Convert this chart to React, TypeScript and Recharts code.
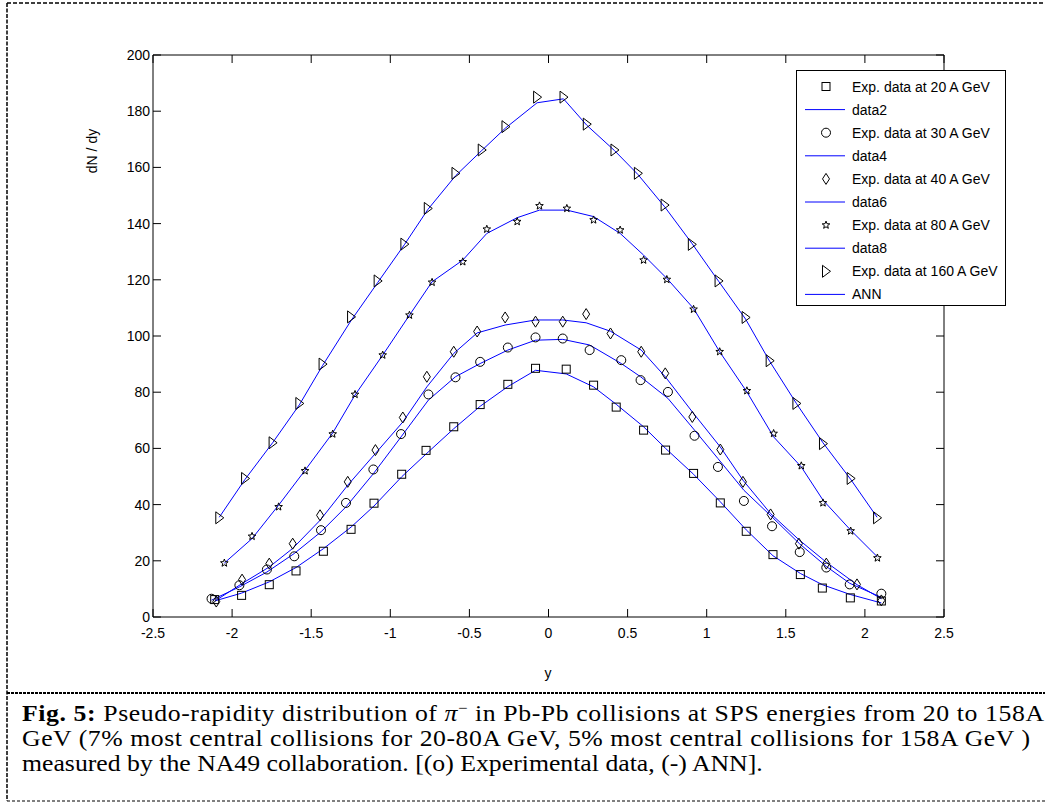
import React from "react";
import { ComposedChart, Line, Scatter, XAxis, YAxis } from "recharts";

const xTicks = [-2.5, -2, -1.5, -1, -0.5, 0, 0.5, 1, 1.5, 2, 2.5];
const yTicks = [0, 20, 40, 60, 80, 100, 120, 140, 160, 180, 200];

// 20 A GeV
const x20 = [-2.11, -1.94, -1.765, -1.596, -1.423, -1.248, -1.103, -0.928, -0.774, -0.599, -0.432, -0.257, -0.082, 0.112, 0.285, 0.428, 0.601, 0.74, 0.917, 1.086, 1.25, 1.419, 1.592, 1.731, 1.908, 2.104];
const exp20 = [6.2, 7.7, 11.5, 16.4, 23.4, 31.2, 40.5, 50.8, 59.3, 67.7, 75.6, 82.8, 88.5, 88.2, 82.5, 74.7, 66.5, 59.4, 51.1, 40.6, 30.5, 22.2, 15.1, 10.3, 6.8, 5.7];
const ann20 = [5.7, 8.5, 12.5, 17.6, 24.3, 32, 39.5, 49.9, 58, 67, 75, 82, 87.8, 86.5, 81.9, 75.7, 67.7, 60, 50.8, 41, 31, 21.8, 15.5, 11.5, 8, 5];

// 30 A GeV
const x30 = [-2.13, -1.954, -1.78, -1.607, -1.438, -1.28, -1.107, -0.932, -0.759, -0.588, -0.432, -0.257, -0.082, 0.09, 0.26, 0.46, 0.582, 0.755, 0.923, 1.071, 1.235, 1.413, 1.588, 1.756, 1.904, 2.104];
const exp30 = [6.5, 11.3, 16.9, 21.6, 30.9, 40.6, 52.5, 65.1, 79.2, 85.3, 90.8, 95.9, 99.5, 99.1, 95, 91.4, 84.3, 80.1, 64.5, 53.4, 41.3, 32.3, 23.1, 17.6, 11.6, 8.3];
const ann30 = [6, 10.7, 16, 22.6, 30.3, 39.2, 51, 64.1, 77.2, 85.5, 90.2, 95, 98.5, 98.8, 96.8, 90.2, 85.5, 77.8, 66.5, 56.4, 45.1, 35.6, 26, 18, 12, 7];

// 40 A GeV
const x40 = [-2.1, -1.937, -1.765, -1.617, -1.444, -1.269, -1.094, -0.921, -0.769, -0.599, -0.451, -0.274, -0.082, 0.09, 0.238, 0.392, 0.586, 0.738, 0.909, 1.086, 1.229, 1.404, 1.583, 1.756, 1.95, 2.104];
const exp40 = [5.5, 13.3, 19, 26.1, 36.2, 48.1, 59.4, 71, 85.5, 94.4, 101.6, 106.6, 105.1, 105.1, 107.8, 100.9, 94.4, 86.7, 71.2, 59.6, 48.1, 36.5, 26.1, 19, 11.6, 5.9];
const ann40 = [6, 11.9, 17.8, 24.4, 34.4, 46.9, 58.2, 69.4, 81.9, 93.8, 101.1, 103.9, 105.7, 105.7, 104.7, 101.7, 95, 85.5, 73, 60.5, 48.7, 36.8, 27.5, 19.5, 11.5, 6.5];

// 80 A GeV
const x80 = [-2.049, -1.874, -1.706, -1.539, -1.364, -1.223, -1.048, -0.879, -0.736, -0.542, -0.39, -0.198, -0.057, 0.116, 0.285, 0.453, 0.601, 0.748, 0.917, 1.082, 1.254, 1.423, 1.598, 1.735, 1.91, 2.079];
const exp80 = [19.2, 28.7, 39.2, 52, 65.1, 79.2, 93.2, 107.4, 119.1, 126.4, 138, 140.7, 146.3, 145.4, 141.3, 137.7, 127, 120.1, 109.5, 94.4, 80.5, 65.3, 53.8, 40.6, 30.6, 21];
const ann80 = [19.2, 27.9, 39.8, 52.2, 65.5, 79, 93.2, 107.4, 119.3, 127, 136.5, 142.1, 144.8, 144.8, 142.5, 136.5, 128.8, 120.5, 109.8, 94.4, 80.1, 64.1, 53.4, 41.6, 30.9, 21.4];

// 160 A GeV
const x160 = [-2.081, -1.918, -1.744, -1.575, -1.428, -1.248, -1.08, -0.911, -0.763, -0.588, -0.422, -0.272, -0.072, 0.095, 0.242, 0.417, 0.565, 0.734, 0.906, 1.075, 1.246, 1.398, 1.567, 1.735, 1.91, 2.077];
const exp160 = [35.3, 49.3, 62, 76, 90, 106.8, 119.6, 132.7, 145.4, 157.9, 166.2, 174.5, 185, 185, 175.4, 166.2, 157.9, 146.6, 132.6, 119.6, 106.6, 91.2, 76, 61.7, 49.3, 35.3];
const ann160 = [35.5, 49, 62, 75.5, 89.5, 105.5, 119, 132.5, 145, 157, 166, 174, 183, 184.4, 175, 166, 157.5, 146, 133, 119.5, 106, 91, 76, 62, 49, 35.5];

const legendLabels = [
  "Exp. data at 20 A GeV", "data2",
  "Exp. data at 30 A GeV", "data4",
  "Exp. data at 40 A GeV", "data6",
  "Exp. data at 80 A GeV", "data8",
  "Exp. data at 160 A GeV", "ANN",
];

type MarkerKind = "square" | "circle" | "diamond" | "star" | "triangle";

const toPoints = (xs: number[], ys: number[]) => xs.map((x, i) => ({ x, y: ys[i] }));

const series: { kind: MarkerKind; xs: number[]; exp: number[]; ann: number[] }[] = [
  { kind: "square", xs: x20, exp: exp20, ann: ann20 },
  { kind: "circle", xs: x30, exp: exp30, ann: ann30 },
  { kind: "diamond", xs: x40, exp: exp40, ann: ann40 },
  { kind: "star", xs: x80, exp: exp80, ann: ann80 },
  { kind: "triangle", xs: x160, exp: exp160, ann: ann160 },
];

const BLUE = "#0000ff";
const FONT = "'Liberation Sans', Arial, Helvetica, sans-serif";

// plot frame (page px), matches the chart margins below
const PLOT_LEFT = 153;
const PLOT_RIGHT = 944;
const PLOT_TOP = 55;
const PLOT_BOTTOM = 617;
const TICK = 8;

function Marker({ kind, cx, cy }: { kind: MarkerKind; cx: number; cy: number }) {
  const common = { fill: "none", stroke: "#000", strokeWidth: 1 };
  if (kind === "square") return <rect x={cx - 4} y={cy - 4} width={8} height={8} {...common} />;
  if (kind === "circle") return <circle cx={cx} cy={cy} r={4.5} {...common} />;
  if (kind === "diamond")
    return <polygon points={`${cx},${cy - 5.5} ${cx + 3.5},${cy} ${cx},${cy + 5.5} ${cx - 3.5},${cy}`} {...common} />;
  if (kind === "triangle")
    return <polygon points={`${cx - 3.5},${cy - 6} ${cx + 4.5},${cy} ${cx - 3.5},${cy + 6}`} {...common} />;
  const pts: string[] = [];
  for (let i = 0; i < 10; i++) {
    const r = i % 2 === 0 ? 4 : 1.7;
    const a = -Math.PI / 2 + (i * Math.PI) / 5;
    pts.push(`${cx + r * Math.cos(a)},${cy + r * Math.sin(a)}`);
  }
  return <polygon points={pts.join(" ")} {...common} />;
}

// x ticks: inward marks on bottom and top edges, label below
function BottomTick({ x, payload }: any) {
  return (
    <g>
      <path d={`M${x},${PLOT_BOTTOM}V${PLOT_BOTTOM - TICK}M${x},${PLOT_TOP}V${PLOT_TOP + TICK}`} stroke="#000" fill="none" />
      <text x={x} y={PLOT_BOTTOM + 21} textAnchor="middle" fontSize={14} fontFamily={FONT} fill="#000">
        {payload.value}
      </text>
    </g>
  );
}

// y ticks: inward marks on left and right edges, label left
function LeftTick({ y, payload }: any) {
  return (
    <g>
      <path d={`M${PLOT_LEFT},${y}H${PLOT_LEFT + TICK}M${PLOT_RIGHT},${y}H${PLOT_RIGHT - TICK}`} stroke="#000" fill="none" />
      <text x={PLOT_LEFT - 3} y={y + 5} textAnchor="end" fontSize={14} fontFamily={FONT} fill="#000">
        {payload.value}
      </text>
    </g>
  );
}

function ChartLegend() {
  return (
    <svg width={212} height={238} style={{ position: "absolute", left: 796, top: 70 }}>
      <rect x={0.5} y={0.5} width={209} height={235} fill="#fff" stroke="#000" />
      {legendLabels.map((label, i) => {
        const cy = 16.5 + i * 23.1;
        const s = series[Math.floor(i / 2)];
        return (
          <g key={label}>
            {i % 2 === 0 ? (
              <Marker kind={s.kind} cx={30} cy={cy} />
            ) : (
              <line x1={9} x2={49} y1={cy} y2={cy} stroke={BLUE} />
            )}
            <text x={56} y={cy + 5} fontSize={14} fontFamily={FONT} fill="#000">
              {label}
            </text>
          </g>
        );
      })}
    </svg>
  );
}

const CAP_SCALE = 1.12;

function Caption() {
  const serif = "'Liberation Serif', 'Times New Roman', serif";
  const x0 = 22 / CAP_SCALE;
  return (
    <svg width={1045} height={803} style={{ position: "absolute", left: 0, top: 0, pointerEvents: "none" }}>
      <line x1={7} y1={3} x2={1045} y2={3} stroke="#000" strokeWidth={1.5} strokeDasharray="4 2" />
      <line x1={7} y1={3} x2={7} y2={801} stroke="#000" strokeWidth={1.5} strokeDasharray="4 1.5" />
      <line x1={7} y1={693} x2={1045} y2={693} stroke="#000" strokeWidth={2} strokeDasharray="3 1" />
      <line x1={7} y1={801} x2={1045} y2={801} stroke="#000" strokeWidth={1.2} strokeDasharray="3 2" />
      <text x={92} y={151} transform="rotate(-90 92 151)" textAnchor="middle" dominantBaseline="central" fontSize={14} fontFamily={FONT}>
        dN / dy
      </text>
      <text x={548} y={678} textAnchor="middle" fontSize={14} fontFamily={FONT}>
        y
      </text>
      <g fontFamily={serif} fontSize={23} fill="#000" transform={`scale(${CAP_SCALE},1)`}>
        <text x={x0} y={721} textLength={1022 / CAP_SCALE} lengthAdjust="spacing">
          <tspan fontWeight="bold">Fig. 5:</tspan> Pseudo-rapidity distribution of <tspan fontStyle="italic">π</tspan>
          <tspan dy={-8} fontSize={15}>−</tspan>
          <tspan dy={8}> in Pb-Pb collisions at SPS energies from 20 to 158A</tspan>
        </text>
        <text x={x0} y={746} textLength={1008 / CAP_SCALE} lengthAdjust="spacing">
          GeV (7% most central collisions for 20-80A GeV, 5% most central collisions for 158A GeV )
        </text>
        <text x={x0} y={771}>
          measured by the NA49 collaboration. [(o) Experimental data, (-) ANN].
        </text>
      </g>
    </svg>
  );
}

export default function App() {
  return (
    <div style={{ position: "absolute", left: 0, top: 0, width: 1045, height: 803, background: "#fff", overflow: "hidden" }}>
      <div style={{ position: "absolute", left: 0, top: 0 }}>
        <ComposedChart width={1045} height={693} margin={{ top: 55, right: 101, bottom: 46, left: 93 }}>
          <XAxis
            dataKey="x"
            type="number"
            domain={[-2.5, 2.5]}
            ticks={xTicks}
            allowDataOverflow
            stroke="#000"
            tickLine={false}
            tick={<BottomTick />}
            height={30}
          />
          <YAxis
            dataKey="y"
            type="number"
            domain={[0, 200]}
            ticks={yTicks}
            allowDataOverflow
            stroke="#000"
            tickLine={false}
            tick={<LeftTick />}
            width={60}
          />
          <XAxis xAxisId="top" orientation="top" mirror type="number" domain={[-2.5, 2.5]} ticks={xTicks} allowDataOverflow tick={false} tickLine={false} stroke="#000" />
          <YAxis yAxisId="right" orientation="right" mirror type="number" domain={[0, 200]} ticks={yTicks} allowDataOverflow tick={false} tickLine={false} stroke="#000" />
          {series.map((s) => (
            <Line
              key={`ann-${s.kind}`}
              data={toPoints(s.xs, s.ann)}
              dataKey="y"
              type="linear"
              stroke={BLUE}
              strokeWidth={1}
              dot={false}
              activeDot={false}
              isAnimationActive={false}
            />
          ))}
          {series.map((s) => (
            <Scatter
              key={`exp-${s.kind}`}
              data={toPoints(s.xs, s.exp)}
              isAnimationActive={false}
              shape={(p: any) => <Marker kind={s.kind} cx={p.cx} cy={p.cy} />}
            />
          ))}
        </ComposedChart>
      </div>
      <ChartLegend />
      <Caption />
    </div>
  );
}
